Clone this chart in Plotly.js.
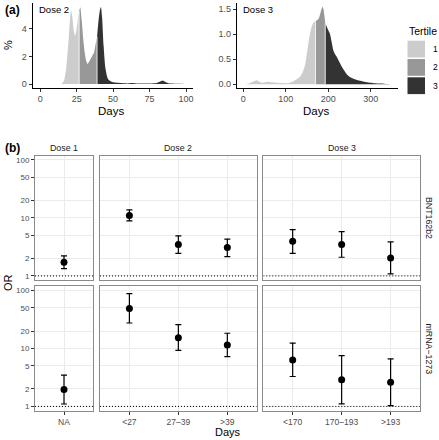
<!DOCTYPE html>
<html>
<head>
<meta charset="utf-8">
<script src="https://cdn.plot.ly/plotly-3.0.1.min.js"></script>
<style>html,body{margin:0;padding:0;background:#fff;}#chart{width:439px;height:440px;}</style>
</head>
<body>
<div id="chart"></div>
<script>
// ---------- Panel (a): density of days since dose, by tertile ----------
const tertileLabels = ["1", "2", "3"];
const tertileColors = ["#CCCCCC", "#989898", "#333333"];

// Dose 2 (days, %)
const d2x1 = [14, 15, 16.5, 18, 19.5, 20.5, 21.1, 22, 23, 24, 25, 26, 26.7];
const d2y1 = [0, 0.05, 0.3, 1.3, 3.2, 4.8, 5.38, 4.9, 3.9, 3.5, 4.0, 4.8, 5.3];
const d2x2 = [26.7, 27.5, 28.5, 29.5, 30.5, 31.5, 32.5, 34, 35.5, 37, 38, 39];
const d2y2 = [5.3, 5.58, 4.6, 3.3, 2.3, 1.7, 1.45, 1.7, 2.0, 2.3, 2.9, 3.44];
const d2x3 = [39, 40, 41, 41.7, 42.5, 43.5, 44.6, 46, 47, 50, 55, 60, 63, 66, 70, 75, 80, 82, 84, 86, 88, 92, 96, 100];
const d2y3 = [3.44, 4.6, 5.4, 5.6, 4.8, 2.8, 1.26, 0.5, 0.29, 0.12, 0.07, 0.04, 0.07, 0.04, 0.03, 0.04, 0.08, 0.16, 0.25, 0.14, 0.05, 0.02, 0.01, 0];

// Dose 3 (days, %)
const d3x1 = [2, 12, 20, 31.7, 38, 43.5, 52, 59, 68, 78.8, 92, 106, 118, 126, 133.6, 140, 145.4, 149, 153.3, 157, 161, 165, 170];
const d3y1 = [0, 0.01, 0.04, 0.08, 0.05, 0.03, 0.04, 0.05, 0.04, 0.03, 0.025, 0.02, 0.06, 0.1, 0.15, 0.24, 0.38, 0.56, 0.81, 1.0, 1.15, 1.23, 1.27];
const d3x2 = [170, 174, 178, 181, 184, 187, 189, 191, 193];
const d3y2 = [1.27, 1.28, 1.32, 1.4, 1.5, 1.55, 1.5, 1.38, 1.22];
const d3x3 = [193, 198, 204, 208, 212, 216, 220, 226, 232, 238, 243.5, 250, 259, 270, 280, 290, 300, 310, 320, 330, 340, 346];
const d3y3 = [1.22, 1.12, 1.01, 0.85, 0.68, 0.6, 0.55, 0.45, 0.35, 0.27, 0.2, 0.15, 0.11, 0.08, 0.06, 0.04, 0.03, 0.02, 0.015, 0.012, 0.006, 0];

const dose2Ticks = [0, 25, 50, 75, 100];
const dose2YTicks = [0, 2, 4];
const dose3Ticks = [0, 100, 200, 300];
const dose3YTicks = [0, 0.5, 1.0, 1.5];

// ---------- Panel (b): odds ratios ----------
const doseNames = ["Dose 1", "Dose 2", "Dose 3"];
const vaccineNames = ["BNT162b2", "mRNA\u22121273"];
const catDose = ["Dose 1", "Dose 2", "Dose 2", "Dose 2", "Dose 3", "Dose 3", "Dose 3"];
const catLabels = ["NA", "<27", "27\u201339", ">39", "<170", "170\u2013193", ">193"];
const bntOR = [1.72, 11.0, 3.47, 3.09, 3.98, 3.47, 2.04];
const bntLo = [1.34, 8.9, 2.45, 2.16, 2.45, 2.1, 1.08];
const bntHi = [2.21, 13.8, 4.9, 4.3, 6.3, 5.8, 3.86];
const mrnaOR = [1.96, 49, 15.3, 11.5, 6.3, 2.88, 2.62];
const mrnaLo = [1.1, 27.5, 9.3, 7.2, 3.28, 1.11, 1.03];
const mrnaHi = [3.47, 88, 25.8, 18.3, 12.4, 7.5, 6.6];
const orTicks = [1, 2, 5, 10, 20, 50, 100];
const refOR = 1;

// ---------- geometry helpers ----------
const W = 439, H = 440;
const FONT = "Liberation Sans, Arial, Helvetica, sans-serif";
function xd(a, b) { return [a / W, b / W]; }
function yd(top, bottom) { return [1 - bottom / H, 1 - top / H]; }

const traces = [];
const layout = {
  width: W, height: H,
  margin: {l: 0, r: 0, t: 0, b: 0},
  paper_bgcolor: "#ffffff", plot_bgcolor: "#ffffff",
  showlegend: false,
  font: {family: FONT, size: 9, color: "#000"},
  annotations: [], shapes: []
};

// ----- density panels -----
function densityTraces(xs, ys, xa, ya) {
  for (let t = 0; t < 3; t++) {
    traces.push({
      type: "scatter", mode: "lines", x: xs[t], y: ys[t], xaxis: xa, yaxis: ya,
      fill: "tozeroy", fillcolor: tertileColors[t],
      line: {width: 0, color: tertileColors[t], shape: "spline", smoothing: 0.5},
      hoverinfo: "skip"
    });
  }
  // thin white separators at tertile boundaries
  for (let t = 1; t < 3; t++) {
    traces.push({
      type: "scatter", mode: "lines", x: [xs[t][0], xs[t][0]], y: [0, ys[t][0]],
      xaxis: xa, yaxis: ya, line: {width: 0.8, color: "#ffffff"}, hoverinfo: "skip"
    });
  }
}
densityTraces([d2x1, d2x2, d2x3], [d2y1, d2y2, d2y3], "x", "y");
densityTraces([d3x1, d3x2, d3x3], [d3y1, d3y2, d3y3], "x2", "y2");

const classicAxis = {
  showline: true, linecolor: "#000", linewidth: 1, showgrid: false, zeroline: false,
  ticks: "outside", ticklen: 3, tickwidth: 1, tickcolor: "#333",
  tickfont: {family: FONT, size: 9, color: "#4d4d4d"}, fixedrange: true
};
const aTop = 3, aBottom = 87.8;
layout.xaxis = Object.assign({}, classicAxis, {domain: xd(32.6, 193), range: [-5.2, 104.8], anchor: "y", tickvals: dose2Ticks, ticklabelstandoff: -1});
layout.yaxis = Object.assign({}, classicAxis, {domain: yd(aTop, aBottom), range: [-0.276, 5.89], anchor: "x", tickvals: dose2YTicks});
layout.xaxis2 = Object.assign({}, classicAxis, {domain: xd(236.7, 397.7), range: [-15.3, 363.5], anchor: "y2", tickvals: dose3Ticks, ticklabelstandoff: -1});
layout.yaxis2 = Object.assign({}, classicAxis, {domain: yd(aTop, aBottom), range: [-0.07, 1.626], anchor: "x2", tickvals: dose3YTicks, tickformat: ".1f"});

// ----- OR panels -----
const colX = {"Dose 1": [35, 93], "Dose 2": [100, 256.7], "Dose 3": [263.3, 420]};
const rowY = [[155.7, 280.2], [286.2, 410.7]];
const vacData = [[bntOR, bntLo, bntHi], [mrnaOR, mrnaLo, mrnaHi]];
let axN = 3;
for (let r = 0; r < 2; r++) {
  for (let c = 0; c < 3; c++) {
    const dose = doseNames[c];
    const idx = [];
    catDose.forEach((d, i) => { if (d === dose) idx.push(i); });
    const pos = idx.map((_, k) => k + 1);
    const [orv, lo, hi] = vacData[r];
    const xa = "x" + axN, ya = "y" + axN;
    const xr = [0.4, idx.length + 0.6];
    // reference line at OR = 1
    traces.push({
      type: "scatter", mode: "lines", x: xr, y: [refOR, refOR], xaxis: xa, yaxis: ya,
      line: {color: "#000", width: 1, dash: "1px,2px"}, hoverinfo: "skip"
    });
    traces.push({
      type: "scatter", mode: "markers", x: pos, y: idx.map(i => orv[i]), xaxis: xa, yaxis: ya,
      marker: {color: "#000", size: 7},
      error_y: {type: "data", symmetric: false,
        array: idx.map(i => hi[i] - orv[i]), arrayminus: idx.map(i => orv[i] - lo[i]),
        color: "#000", thickness: 1.2, width: 3},
      hoverinfo: "skip"
    });
    layout["xaxis" + axN] = {
      domain: xd(colX[dose][0], colX[dose][1]), range: xr, anchor: ya,
      tickvals: pos, ticktext: idx.map(i => catLabels[i]),
      showticklabels: r === 1, ticks: r === 1 ? "outside" : "", ticklen: 3, tickcolor: "#333",
      tickfont: {family: FONT, size: 8.5, color: "#4d4d4d"},
      showgrid: true, gridcolor: "#ebebeb", gridwidth: 1,
      showline: true, mirror: true, linecolor: "#8a8a8a", linewidth: 1, zeroline: false, fixedrange: true
    };
    layout["yaxis" + axN] = {
      domain: yd(rowY[r][0], rowY[r][1]), type: "log", range: [-0.074, 2.074], anchor: xa,
      tickvals: orTicks, ticktext: orTicks.map(String),
      showticklabels: c === 0, ticks: c === 0 ? "outside" : "", ticklen: 3, tickcolor: "#333",
      tickfont: {family: FONT, size: 8, color: "#4d4d4d"},
      showgrid: true, gridcolor: "#ebebeb", gridwidth: 1,
      showline: true, mirror: true, linecolor: "#8a8a8a", linewidth: 1, zeroline: false, fixedrange: true
    };
    axN++;
  }
}

// ----- text -----
function ann(text, x, y, opts) {
  layout.annotations.push(Object.assign({
    text: text, x: x / W, y: 1 - y / H, xref: "paper", yref: "paper",
    showarrow: false, xanchor: "center", yanchor: "middle",
    font: {family: FONT, size: 9, color: "#000"}
  }, opts || {}));
}
ann("<b>(a)</b>", 12, 10, {font: {family: FONT, size: 12, color: "#000"}});
ann("<b>(b)</b>", 12, 148, {font: {family: FONT, size: 12, color: "#000"}});
ann("Dose 2", 37, 9, {xanchor: "left", font: {family: FONT, size: 9.5, color: "#000"}});
ann("Dose 3", 240.5, 9, {xanchor: "left", font: {family: FONT, size: 9.5, color: "#000"}});
ann("%", 8, 45, {textangle: -90, font: {family: FONT, size: 11, color: "#000"}});
ann("Days", 111, 111, {font: {family: FONT, size: 11.5, color: "#000"}});
ann("Days", 316, 111, {font: {family: FONT, size: 11.5, color: "#000"}});
// legend
ann("Tertile", 407, 31, {xanchor: "left", font: {family: FONT, size: 10.5, color: "#000"}});
const boxTops = [40.7, 59, 77.3];
tertileLabels.forEach((lab, i) => {
  layout.shapes.push({type: "rect", xref: "paper", yref: "paper",
    x0: 407.5 / W, x1: 425 / W, y0: 1 - (boxTops[i] + 16.8) / H, y1: 1 - boxTops[i] / H,
    fillcolor: tertileColors[i], line: {width: 0}});
  ann(lab, 431, boxTops[i] + 8.4, {xanchor: "left", font: {family: FONT, size: 8.5, color: "#000"}});
});
// strips
doseNames.forEach(d => ann(d, (colX[d][0] + colX[d][1]) / 2, 148, {font: {family: FONT, size: 8.8, color: "#1a1a1a"}}));
vaccineNames.forEach((v, r) => ann(v, 429, (rowY[r][0] + rowY[r][1]) / 2, {textangle: 90, font: {family: FONT, size: 8.8, color: "#1a1a1a"}}));
ann("OR", 8, 283, {textangle: -90, font: {family: FONT, size: 11, color: "#000"}});
ann("Days", 227.5, 432, {font: {family: FONT, size: 11, color: "#000"}});

Plotly.newPlot("chart", traces, layout, {staticPlot: true, displayModeBar: false});
</script>
</body>
</html>
